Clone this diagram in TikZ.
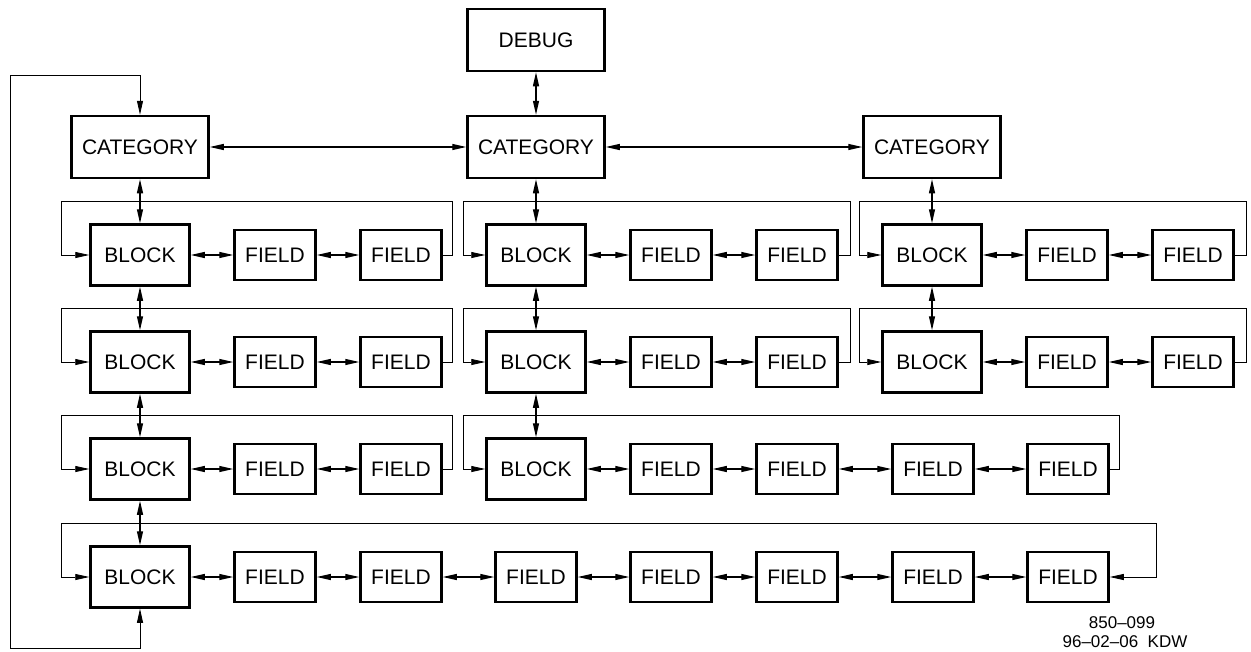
\documentclass[tikz,border=0pt]{standalone}
\usepackage{fontspec}
\setmainfont{Liberation Sans}
\usetikzlibrary{arrows.meta}
\begin{document}
\begin{tikzpicture}[x=1pt,y=-1pt,>={Triangle[length=14pt,width=6pt]},
	box/.style={draw,line width=2.5pt,inner sep=0pt,font=\fontsize{21}{25}\selectfont},
	catbox/.style={box,minimum width=137pt,minimum height=62pt},
	blockbox/.style={box,minimum width=99pt,minimum height=61pt},
	fieldbox/.style={box,minimum width=81pt,minimum height=50pt},
	dbl/.style={line width=1.2pt,<->},
	backline/.style={line width=0.8pt}]
	\useasboundingbox (0,0) rectangle (1251,651);
	\node[catbox] (debug) at (536,40) {DEBUG};
	\node[catbox] (catL) at (140,147) {CATEGORY};
	\node[catbox] (catM) at (536,147) {CATEGORY};
	\node[catbox] (catR) at (932,147) {CATEGORY};
	\foreach \n/\bx/\y/\xl/\xr/\fl in {L1/140/255/61/452/{275,401}, L2/140/362/61/452/{275,401},
			L3/140/469/61/452/{275,401}, M1/536/255/463/850/{671,797}, M2/536/362/463/850/{671,797},
			M3/536/469/463/1119/{671,797,933,1068}, R1/932/255/859/1246/{1067,1193},
			R2/932/362/859/1246/{1067,1193}} {
		\node[blockbox] (b\n) at (\bx,\y) {BLOCK};
		\xdef\prev{b\n}
		\foreach \fx [count=\i] in \fl {
			\node[fieldbox] (f\n-\i) at (\fx,\y) {FIELD};
			\draw[dbl] (\prev) -- (f\n-\i);
			\xdef\prev{f\n-\i}
		}
		\draw[backline,->] (\prev.east) -- (\xr,\y) |- ({\xl},{\y-54}) |- (b\n.west);
	}
	\node[blockbox] (bL4) at (140,577) {BLOCK};
	\xdef\prev{bL4}
	\foreach \fx [count=\i] in {275,401,536,671,797,933,1068} {
		\node[fieldbox] (fL4-\i) at (\fx,577) {FIELD};
		\draw[dbl] (\prev) -- (fL4-\i);
		\xdef\prev{fL4-\i}
	}
	\draw[backline,<->] (\prev.east) -- (1156,577) |- (61,523) |- (bL4.west);
	\foreach \a/\b in {debug/catM, catL/catM, catM/catR, catL/bL1, bL1/bL2, bL2/bL3, bL3/bL4,
			catM/bM1, bM1/bM2, bM2/bM3, catR/bR1, bR1/bR2}
		\draw[dbl] (\a) -- (\b);
	\draw[backline,<->] (bL4.south) -- (140,648) -| (10,75) -| (catL.north);
	\node[font=\fontsize{17}{19}\selectfont,inner sep=1pt] (num) at (1122,623) {850–099};
	\node[font=\fontsize{17}{19}\selectfont,inner sep=1pt] (date) at (1125,642) {96–02–06\ \ KDW};
\end{tikzpicture}
\end{document}
